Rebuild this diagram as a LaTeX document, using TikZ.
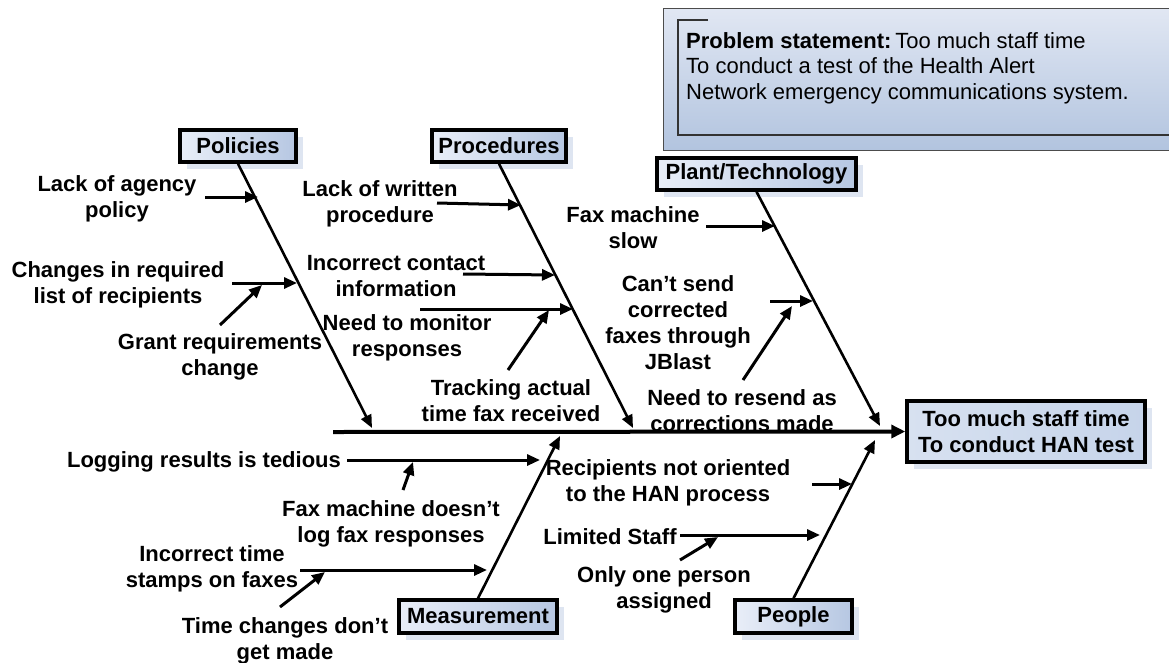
\documentclass[tikz,border=0pt]{standalone}
\usepackage{fontspec}
\setmainfont{Liberation Sans}
\usetikzlibrary{arrows.meta,shadows}

\definecolor{boxlight}{HTML}{E9EEF8}
\definecolor{boxdark}{HTML}{B6C7E2}
\definecolor{headfill}{HTML}{C6D4EA}
\definecolor{shadowc}{HTML}{DEE5F1}
\definecolor{probtop}{HTML}{E1E7F3}
\definecolor{probbot}{HTML}{B2C4DF}

\begin{document}
\begin{tikzpicture}[x=1pt,y=-1pt,
  lbl/.style={font=\fontsize{22}{26}\selectfont\bfseries, align=center, inner sep=0pt, yshift=-2pt},
  catbox/.style={draw, line width=3.5pt, left color=boxlight, right color=boxdark,
    font=\fontsize{22}{24}\selectfont\bfseries, inner sep=0pt, minimum height=32pt,
    drop shadow={fill=shadowc, opacity=1, shadow xshift=7pt, shadow yshift=-7pt}},
  bone/.style={line width=2.6pt, -{Triangle[length=13pt,width=11pt]}},
  subarrow/.style={line width=3pt, -{Triangle[length=13pt,width=11pt]}}
]
\useasboundingbox (0,0) rectangle (1169,662);

% problem statement panel
\shade[top color=probtop, bottom color=probbot] (663,8) rectangle (1175,150);
\draw[line width=1pt, black!70] (1175,8) -- (663,8) -- (663,150) -- (1175,150);
\draw[line width=1.2pt, black!80] (708,20) -- (678,20) -- (678,135) -- (1175,135);
\node (prob) [anchor=west, align=left, inner sep=0pt,
  font=\fontsize{22}{25.5}\selectfont] at (686,68)
  {\textbf{Problem statement:}\,Too much staff time\\
   To conduct a test of the Health Alert\\
   Network emergency communications system.};

% effect box
\node (head) [draw, line width=3.5pt, left color=headfill!70!white, right color=headfill,
  font=\fontsize{22}{26}\selectfont\bfseries, align=center, inner sep=0pt,
  minimum width=238pt, minimum height=61pt,
  drop shadow={fill=shadowc, opacity=1, shadow xshift=7pt, shadow yshift=-7pt}]
  at (1026,431.5) {Too much staff time\\To conduct HAN test};

% category boxes
\node (pol)  [catbox, minimum width=116pt] at (238,146) {Policies};
\node (proc) [catbox, minimum width=134pt] at (499,146) {Procedures};
\node (tech) [catbox, minimum width=199pt] at (756.5,174) {Plant/Technology};
\node (meas) [catbox, minimum width=158pt, minimum height=33pt] at (478,616.5) {Measurement};
\node (peop) [catbox, minimum width=117pt, minimum height=33pt] at (793.5,616.5) {People};

% spine
\coordinate (spineL) at (333,432);
\draw[line width=4pt, -{Triangle[length=14pt,width=13pt]}] (spineL) -- (head.west);

% bone ends on the spine
\coordinate (polT)  at (372,428);
\coordinate (procT) at (633,428);
\coordinate (techT) at (880,426);
\coordinate (measT) at (560,436);
\coordinate (peopT) at (875,440);
\draw[bone] (pol.south)  -- (polT);
\draw[bone] (proc.south) -- (procT);
\draw[bone] (tech.south) -- (techT);
\draw[bone] (meas.north) -- (measT);
\draw[bone] (peop.north) -- (peopT);

% Policies causes
\node (p1) [lbl] at (117,197) {Lack of agency\\policy};
\node (p2) [lbl] at (118,283) {Changes in required\\list of recipients};
\node (p3) [lbl] at (220,354.5) {Grant requirements\\change};
\coordinate (p1s) at (205,197);   \coordinate (p1e) at (258,197);
\coordinate (p2s) at (232,283);   \coordinate (p2e) at (297,283);
\coordinate (p3s) at (220,325);   \coordinate (p3e) at (262,285);
\draw[subarrow] (p1s) -- (p1e);
\draw[subarrow] (p2s) -- (p2e);
\draw[subarrow] (p3s) -- (p3e);

% Procedures causes
\node (r1) [lbl] at (380,202) {Lack of written\\procedure};
\node (r2) [lbl] at (396,274) {Incorrect contact\\information};
\node (r3) [lbl] at (407,336) {Need to monitor\\responses};
\node (r4) [lbl] at (511,399) {Tracking actual\\time fax received};
\coordinate (r1s) at (437,203);   \coordinate (r1e) at (521,205);
\coordinate (r2s) at (463,274);   \coordinate (r2e) at (555,275);
\coordinate (r3s) at (420,309);   \coordinate (r3e) at (573,309);
\coordinate (r4s) at (508,370);   \coordinate (r4e) at (549,310);
\draw[subarrow] (r1s) -- (r1e);
\draw[subarrow] (r2s) -- (r2e);
\draw[subarrow] (r3s) -- (r3e);
\draw[subarrow] (r4s) -- (r4e);

% Plant/Technology causes
\node (t1) [lbl] at (633,226) {Fax machine\\slow};
\node (t2) [lbl] at (678,321) {Can’t send\\corrected\\faxes through\\JBlast};
\node (t3) [lbl] at (742,409) {Need to resend as\\corrections made};
\coordinate (t1s) at (706,226);   \coordinate (t1e) at (775,226);
\coordinate (t2s) at (770,301);   \coordinate (t2e) at (813,301);
\coordinate (t3s) at (743,380);   \coordinate (t3e) at (792,306);
\draw[subarrow] (t1s) -- (t1e);
\draw[subarrow] (t2s) -- (t2e);
\draw[subarrow] (t3s) -- (t3e);

% Measurement causes
\node (m1) [lbl] at (204,460) {Logging results is tedious};
\node (m2) [lbl] at (391,522) {Fax machine doesn’t\\log fax responses};
\node (m3) [lbl] at (212,567) {Incorrect time\\stamps on faxes};
\node (m4) [lbl] at (285,639) {Time changes don’t\\get made};
\coordinate (m1s) at (347,460);   \coordinate (m1e) at (540,460);
\coordinate (m2s) at (403,490);   \coordinate (m2e) at (413,462);
\coordinate (m3s) at (300,570);   \coordinate (m3e) at (487,570);
\coordinate (m4s) at (280,607);   \coordinate (m4e) at (325,572);
\draw[subarrow] (m1s) -- (m1e);
\draw[subarrow] (m2s) -- (m2e);
\draw[subarrow] (m3s) -- (m3e);
\draw[subarrow] (m4s) -- (m4e);

% People causes
\node (e1) [lbl] at (668,481) {Recipients not oriented\\to the HAN process};
\node (e2) [lbl] at (610,535) {Limited Staff};
\node (e3) [lbl] at (664,588) {Only one person\\assigned};
\coordinate (e1s) at (812,484);   \coordinate (e1e) at (852,484);
\coordinate (e2s) at (680,535);   \coordinate (e2e) at (820,535);
\coordinate (e3s) at (680,560);   \coordinate (e3e) at (718,537);
\draw[subarrow] (e1s) -- (e1e);
\draw[subarrow] (e2s) -- (e2e);
\draw[subarrow] (e3s) -- (e3e);
\end{tikzpicture}
\end{document}
